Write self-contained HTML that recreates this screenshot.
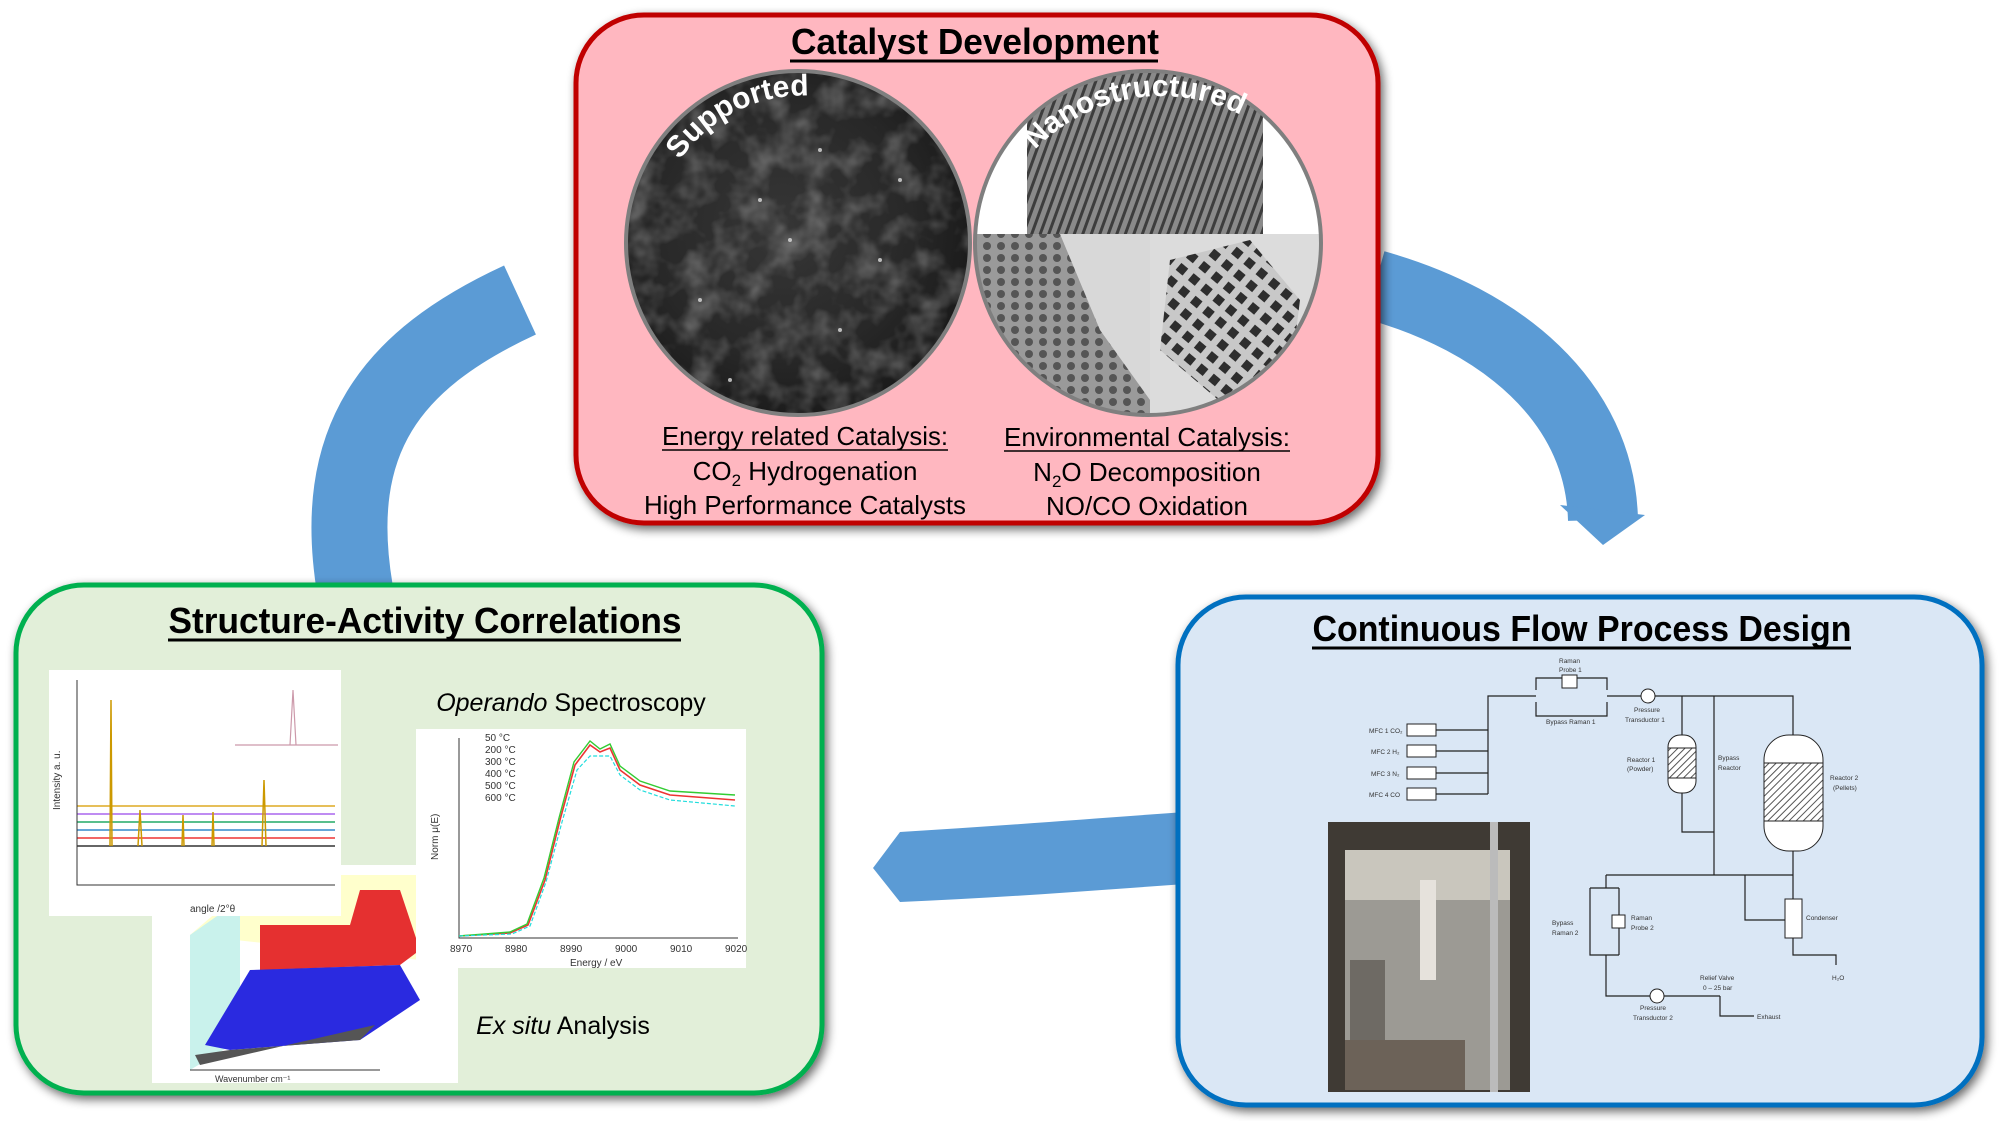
<!DOCTYPE html>
<html><head><meta charset="utf-8"><style>
html,body{margin:0;padding:0;background:#fff;width:2000px;height:1121px;overflow:hidden}
svg{display:block}
text{font-family:"Liberation Sans",sans-serif}
</style></head><body>
<svg width="2000" height="1121" viewBox="0 0 2000 1121" xmlns="http://www.w3.org/2000/svg">
<defs>
<filter id="sh" x="-5%" y="-5%" width="110%" height="115%"><feGaussianBlur in="SourceAlpha" stdDeviation="5"/><feOffset dx="3" dy="4"/><feComponentTransfer><feFuncA type="linear" slope="0.6"/></feComponentTransfer><feMerge><feMergeNode/><feMergeNode in="SourceGraphic"/></feMerge></filter>
<filter id="noise" x="0" y="0" width="100%" height="100%"><feTurbulence type="fractalNoise" baseFrequency="0.035" numOctaves="3" seed="4"/><feColorMatrix type="matrix" values="0 0 0 0 0.4  0 0 0 0 0.4  0 0 0 0 0.4  0 0 0 1.0 -0.4"/></filter>
<radialGradient id="sem" cx="0.45" cy="0.45" r="0.6"><stop offset="0" stop-color="#363636"/><stop offset="0.6" stop-color="#282828"/><stop offset="1" stop-color="#161616"/></radialGradient>
<pattern id="dots" width="14" height="12" patternUnits="userSpaceOnUse"><rect width="14" height="12" fill="#9a9a9a"/><circle cx="7" cy="6" r="4" fill="#555"/></pattern>
<pattern id="grid" width="16" height="16" patternUnits="userSpaceOnUse" patternTransform="rotate(40)"><rect width="16" height="16" fill="#c8c8c8"/><rect x="2" y="2" width="9" height="9" fill="#2e2e2e"/></pattern>
<pattern id="lines" width="8" height="8" patternUnits="userSpaceOnUse" patternTransform="rotate(20)"><rect width="8" height="8" fill="#8a8a8a"/><rect width="3" height="8" fill="#3d3d3d"/></pattern>
<pattern id="hatch" width="5" height="5" patternUnits="userSpaceOnUse" patternTransform="rotate(45)"><rect width="5" height="5" fill="#fff"/><rect width="1" height="5" fill="#555"/></pattern>
<clipPath id="cl"><ellipse cx="798" cy="243" rx="172" ry="172"/></clipPath>
<clipPath id="cr"><ellipse cx="1148" cy="243" rx="173" ry="172"/></clipPath>
<path id="arcL" d="M 680 160 A 150 150 0 0 1 840 100"/>
<path id="arcR" d="M 1035 150 A 175 175 0 0 1 1265 130"/>
</defs>

<!-- arrows -->
<path d="M 520 300 C 390 360, 330 440, 355 590" fill="none" stroke="#5b9bd5" stroke-width="76"/>
<path d="M 1375 285 C 1500 320, 1600 400, 1603 520" fill="none" stroke="#5b9bd5" stroke-width="70"/>
<polygon points="1560,505 1645,515 1603,545" fill="#5b9bd5"/>
<path d="M 1185 812 C 1100 818, 1000 826, 900 832 L 873 868 L 900 902 C 1000 898, 1100 890, 1185 884 Z" fill="#5b9bd5"/>

<!-- red box -->
<rect x="576" y="15" width="802" height="508" rx="68" fill="#ffb7c0" stroke="#c00000" stroke-width="5" filter="url(#sh)"/>
<text x="975" y="54" font-size="36" font-weight="bold" text-anchor="middle" textLength="368" lengthAdjust="spacingAndGlyphs">Catalyst Development</text>
<line x1="790" y1="61" x2="1158" y2="61" stroke="#000" stroke-width="3"/>
<g clip-path="url(#cl)">
<rect x="620" y="65" width="360" height="360" fill="url(#sem)"/>
<rect x="620" y="65" width="360" height="360" filter="url(#noise)"/>
<g fill="#ddd" opacity="0.8"><circle cx="760" cy="200" r="2"/><circle cx="820" cy="150" r="2"/><circle cx="700" cy="300" r="2"/><circle cx="880" cy="260" r="2"/><circle cx="840" cy="330" r="2"/><circle cx="790" cy="240" r="2"/><circle cx="900" cy="180" r="2"/><circle cx="730" cy="380" r="2"/></g>
</g>
<ellipse cx="798" cy="243" rx="172" ry="172" fill="none" stroke="#7f7f7f" stroke-width="4"/>
<g clip-path="url(#cr)">
<rect x="970" y="65" width="360" height="170" fill="#fff"/>
<rect x="1027" y="65" width="236" height="170" fill="url(#lines)"/>
<rect x="975" y="234" width="175" height="190" fill="#d8d8d8"/>
<polygon points="975,234 1060,234 1100,330 1150,400 1150,424 975,424" fill="url(#dots)"/>
<rect x="1150" y="234" width="180" height="190" fill="#dcdcdc"/>
<polygon points="1170,260 1250,240 1300,300 1290,380 1230,410 1160,350" fill="url(#grid)"/>
</g>
<ellipse cx="1148" cy="243" rx="173" ry="172" fill="none" stroke="#7f7f7f" stroke-width="4"/>
<text font-size="30" font-weight="bold" fill="#fff"><textPath href="#arcL">Supported</textPath></text>
<text font-size="30" font-weight="bold" fill="#fff"><textPath href="#arcR">Nanostructured</textPath></text>
<g font-size="26" text-anchor="middle">
<text x="805" y="445" textLength="286" lengthAdjust="spacingAndGlyphs">Energy related Catalysis:</text>
<line x1="662" y1="450" x2="948" y2="450" stroke="#000" stroke-width="1.5"/>
<text x="805" y="480">CO<tspan font-size="17" dy="6">2</tspan><tspan dy="-6"> Hydrogenation</tspan></text>
<text x="805" y="514" textLength="322" lengthAdjust="spacingAndGlyphs">High Performance Catalysts</text>
<text x="1147" y="446" textLength="286" lengthAdjust="spacingAndGlyphs">Environmental Catalysis:</text>
<line x1="1004" y1="451" x2="1290" y2="451" stroke="#000" stroke-width="1.5"/>
<text x="1147" y="481">N<tspan font-size="17" dy="6">2</tspan><tspan dy="-6">O Decomposition</tspan></text>
<text x="1147" y="515" textLength="202" lengthAdjust="spacingAndGlyphs">NO/CO Oxidation</text>
</g>

<!-- green box -->
<rect x="16" y="585" width="806" height="508" rx="68" fill="#e2efd9" stroke="#00b050" stroke-width="5" filter="url(#sh)"/>
<text x="425" y="633" font-size="36" font-weight="bold" text-anchor="middle" textLength="513" lengthAdjust="spacingAndGlyphs">Structure-Activity Correlations</text>
<line x1="168" y1="640" x2="681" y2="640" stroke="#000" stroke-width="3"/>
<!-- 3D plot -->
<rect x="152" y="865" width="306" height="218" fill="#fff"/>
<polygon points="190,935 260,875 420,875 420,960" fill="#ffffcc"/>
<polygon points="190,935 240,900 240,1040 190,1070" fill="#c9f2ec"/>
<polygon points="260,925 350,925 360,890 400,890 420,950 400,965 260,970" fill="#e53030"/>
<polygon points="205,1045 250,970 400,965 420,1000 360,1040 230,1050" fill="#2a2ae0"/>
<polygon points="195,1055 230,1050 360,1040 375,1025 200,1065" fill="#555"/>
<line x1="190" y1="1070" x2="380" y2="1070" stroke="#333"/>
<text x="215" y="1082" font-size="9" fill="#333">Wavenumber cm⁻¹</text>
<!-- XRD -->
<rect x="49" y="670" width="292" height="246" fill="#fff"/>
<g fill="none" stroke-width="1.5">
<path d="M77 846 L335 846" stroke="#333"/>
<path d="M77 838 L335 838" stroke="#e33"/>
<path d="M77 830 L335 830" stroke="#38c"/>
<path d="M77 822 L335 822" stroke="#2a6"/>
<path d="M77 814 L335 814" stroke="#a6e"/>
<path d="M77 806 L335 806" stroke="#da2"/>
<path d="M110 846 L111 700 L112 846 M262 846 L264 780 L266 846 M138 846 L140 810 L142 846 M182 846 L183 815 L184 846 M212 846 L213 812 L214 846" stroke="#c90"/>
</g>
<path d="M77 680 L77 885 L335 885" fill="none" stroke="#333"/>
<text x="190" y="912" font-size="10" fill="#333">angle /2°θ</text>
<text x="60" y="810" font-size="10" fill="#333" transform="rotate(-90 60 810)">Intensity a. u.</text>
<rect x="231" y="672" width="108" height="80" fill="#fff"/>
<path d="M235 745 L338 745 M290 745 L293 690 L296 745" fill="none" stroke="#c9a" stroke-width="1.2"/>
<!-- operando -->
<rect x="416" y="729" width="330" height="239" fill="#fff"/>
<path d="M459 738 L459 938 L738 938" fill="none" stroke="#333"/>
<path d="M459 936 L510 933 L528 925 L545 880 L560 820 L575 765 L590 745 L600 752 L610 748 L620 770 L640 785 L670 795 L735 800" fill="none" stroke="#e33" stroke-width="1.6"/>
<path d="M459 936 L510 932 L527 924 L544 878 L559 818 L574 762 L590 741 L600 749 L610 744 L620 766 L640 781 L670 791 L735 795" fill="none" stroke="#3c3" stroke-width="1.4"/>
<path d="M459 936 L512 934 L530 926 L546 882 L562 822 L577 770 L590 756 L610 756 L620 775 L640 790 L670 800 L735 806" fill="none" stroke="#2dd" stroke-width="1.2" stroke-dasharray="4 2"/>
<g font-size="10" fill="#333"><text x="485" y="741">50 °C</text><text x="485" y="753">200 °C</text><text x="485" y="765">300 °C</text><text x="485" y="777">400 °C</text><text x="485" y="789">500 °C</text><text x="485" y="801">600 °C</text>
<text x="570" y="966">Energy / eV</text><text x="438" y="860" transform="rotate(-90 438 860)">Norm μ(E)</text>
<text x="450" y="952">8970</text><text x="505" y="952">8980</text><text x="560" y="952">8990</text><text x="615" y="952">9000</text><text x="670" y="952">9010</text><text x="725" y="952">9020</text></g>
<text x="571" y="711" font-size="25" text-anchor="middle"><tspan font-style="italic">Operando</tspan> Spectroscopy</text>
<text x="563" y="1034" font-size="25" text-anchor="middle"><tspan font-style="italic">Ex situ</tspan> Analysis</text>

<!-- blue box -->
<rect x="1178" y="597" width="804" height="508" rx="68" fill="#dae7f5" stroke="#0070c0" stroke-width="5" filter="url(#sh)"/>
<text x="1582" y="641" font-size="36" font-weight="bold" text-anchor="middle" textLength="539" lengthAdjust="spacingAndGlyphs">Continuous Flow Process Design</text>
<line x1="1312" y1="648" x2="1851" y2="648" stroke="#000" stroke-width="3"/>
<!-- photo -->
<rect x="1328" y="822" width="202" height="270" fill="#3f3a34"/>
<rect x="1345" y="850" width="165" height="240" fill="#9c9a94"/>
<rect x="1345" y="850" width="165" height="50" fill="#c9c6bd"/>
<rect x="1350" y="960" width="35" height="80" fill="#6e6a64"/>
<rect x="1420" y="880" width="16" height="100" fill="#e6e2dc"/>
<rect x="1490" y="822" width="8" height="270" fill="#bbb"/>
<rect x="1345" y="1040" width="120" height="50" fill="#6c6258"/>
<!-- flow diagram -->
<g fill="none" stroke="#222" stroke-width="1.2">
<path d="M1488 794 L1488 696 L1536 696 M1536 690 L1536 678 L1607 678 L1607 690 M1536 702 L1536 716 L1607 716 L1607 702 M1607 696 L1793 696 L1793 735"/>
<path d="M1436 730 L1488 730 M1436 751 L1488 751 M1436 773 L1488 773 M1436 794 L1488 794"/>
<path d="M1682 696 L1682 735 M1682 793 L1682 832 L1714 832 M1714 696 L1714 875 M1793 851 L1793 899 M1793 938 L1793 955 L1836 955 L1836 965"/>
<path d="M1606 875 L1793 875 M1745 875 L1745 920 L1785 920"/>
<path d="M1606 875 L1606 888 M1590 888 L1619 888 M1590 888 L1590 955 L1619 955 M1619 888 L1619 955 M1606 955 L1606 996 L1720 996 M1720 996 L1720 1016 L1754 1016"/>
</g>
<g fill="#fff" stroke="#222" stroke-width="1">
<rect x="1407" y="724" width="29" height="12"/><rect x="1407" y="745" width="29" height="12"/><rect x="1407" y="767" width="29" height="12"/><rect x="1407" y="788" width="29" height="12"/>
<rect x="1562" y="675" width="15" height="13"/>
<circle cx="1648" cy="696" r="7"/><circle cx="1657" cy="996" r="7"/>
<rect x="1668" y="735" width="28" height="58" rx="12"/>
<rect x="1668" y="748" width="28" height="30" fill="url(#hatch)"/>
<rect x="1764" y="735" width="59" height="116" rx="25"/>
<rect x="1764" y="763" width="59" height="58" fill="url(#hatch)"/>
<rect x="1785" y="899" width="17" height="39"/>
<rect x="1612" y="915" width="13" height="13"/>
</g>
<g font-size="6.5" fill="#333">
<text x="1369" y="733">MFC 1 CO₂</text><text x="1371" y="754">MFC 2 H₂</text><text x="1371" y="776">MFC 3 N₂</text><text x="1369" y="797">MFC 4 CO</text>
<text x="1559" y="663">Raman</text><text x="1559" y="672">Probe 1</text><text x="1546" y="724">Bypass Raman 1</text>
<text x="1634" y="712">Pressure</text><text x="1625" y="722">Transductor 1</text>
<text x="1627" y="762">Reactor 1</text><text x="1627" y="771">(Powder)</text>
<text x="1718" y="760">Bypass</text><text x="1718" y="770">Reactor</text>
<text x="1830" y="780">Reactor 2</text><text x="1833" y="790">(Pellets)</text>
<text x="1806" y="920">Condenser</text>
<text x="1552" y="925">Bypass</text><text x="1552" y="935">Raman 2</text>
<text x="1631" y="920">Raman</text><text x="1631" y="930">Probe 2</text>
<text x="1700" y="980">Relief Valve</text><text x="1703" y="990">0 – 25 bar</text>
<text x="1640" y="1010">Pressure</text><text x="1633" y="1020">Transductor 2</text>
<text x="1757" y="1019">Exhaust</text><text x="1832" y="980">H₂O</text>
</g>
</svg>
</body></html>
